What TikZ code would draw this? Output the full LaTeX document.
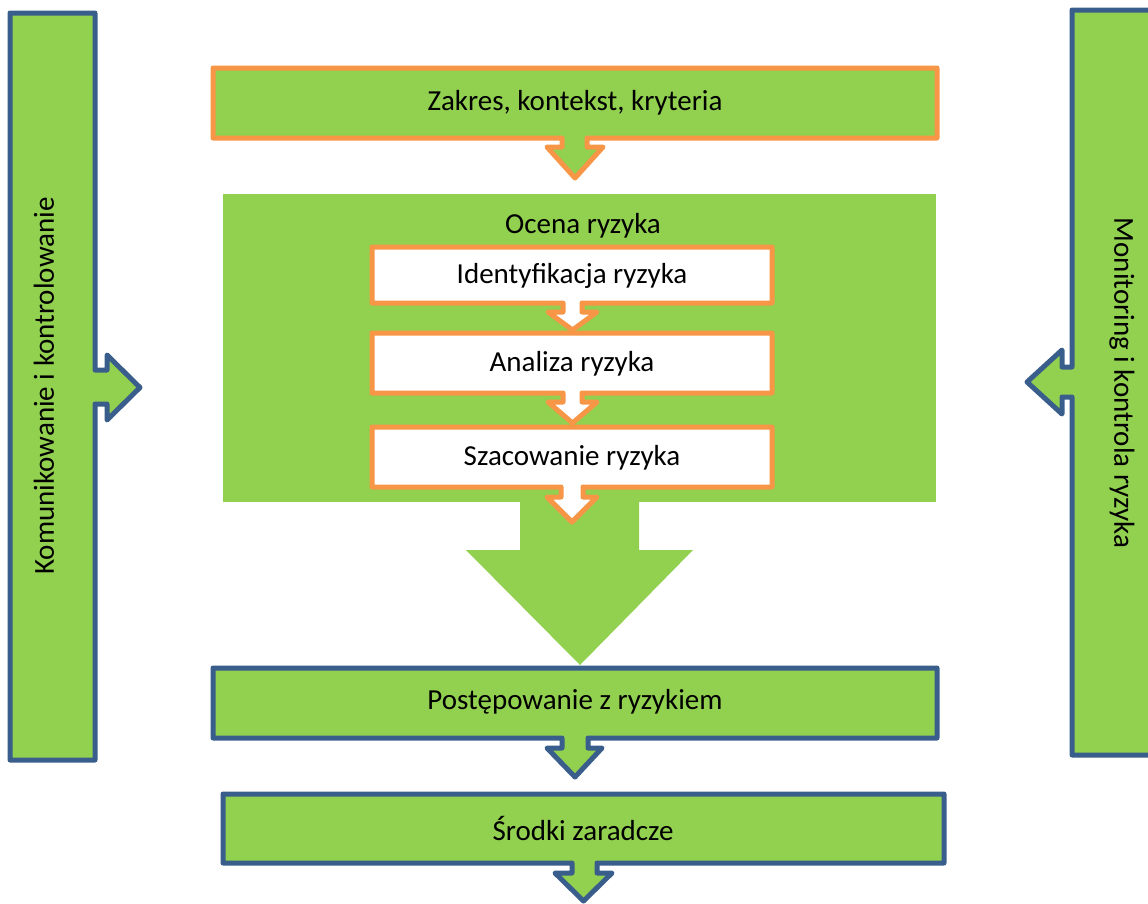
\documentclass[tikz,border=0pt]{standalone}
\usepackage{fontspec}
\setmainfont{Carlito}
\definecolor{grn}{HTML}{92D050}
\definecolor{org}{HTML}{F79646}
\definecolor{blu}{HTML}{3A5E8C}
\begin{document}
\begin{tikzpicture}[x=1pt,y=-1pt,line width=5pt,line join=round,
  obox/.style={draw=org,fill=grn},
  wbox/.style={draw=org,fill=white},
  bbox/.style={draw=blu,fill=grn},
  lbl/.style={font=\fontsize{29}{34}\selectfont,text=black,inner sep=0pt}]
\useasboundingbox (0,0) rectangle (1148,903);
\clip (0,0) rectangle (1148,903);

% side bars
\path[bbox] (10,13) -- (95,13) -- (95,370) -- (107,370) -- (107,355) -- (140,387.5)
  -- (107,420) -- (107,404) -- (95,404) -- (95,760) -- (10,760) -- cycle;
\path[bbox] (1165,10) -- (1072,10) -- (1072,367) -- (1062,367) -- (1062,350) -- (1027,382)
  -- (1062,414) -- (1062,397) -- (1072,397) -- (1072,755) -- (1165,755) -- cycle;
\node[lbl,rotate=90] (kom) at (44,386) {Komunikowanie i kontrolowanie};
\node[lbl,rotate=-90] (mon) at (1122,383) {Monitoring i kontrola ryzyka};

% top box
\path[obox] (213,68) -- (937,68) -- (937,138) -- (587,138) -- (587,147) -- (603,147)
  -- (575,178) -- (547,147) -- (562,147) -- (562,138) -- (213,138) -- cycle;
\node[lbl] (zak) at (575,103) {Zakres, kontekst, kryteria};

% risk assessment area
\fill[grn] (223,194) rectangle (936,502);
\fill[grn] (520,495) -- (639,495) -- (639,550) -- (693,550) -- (580,665) -- (466,550)
  -- (520,550) -- cycle;
\node[lbl] (oce) at (583,226) {Ocena ryzyka};

\path[wbox] (372,247) -- (772,247) -- (772,303) -- (582,303) -- (582,312) -- (597,312)
  -- (572.5,330) -- (548,312) -- (563,312) -- (563,303) -- (372,303) -- cycle;
\node[lbl] (ide) at (572,276) {Identyfikacja ryzyka};

\path[wbox] (372,333) -- (772,333) -- (772,393) -- (582,393) -- (582,402) -- (597,402)
  -- (572.5,423) -- (548,402) -- (563,402) -- (563,393) -- (372,393) -- cycle;
\node[lbl] (ana) at (572,364) {Analiza ryzyka};

\path[wbox] (372,427) -- (772,427) -- (772,487) -- (583,487) -- (583,497) -- (597,497)
  -- (572,522) -- (547,497) -- (561,497) -- (561,487) -- (372,487) -- cycle;
\node[lbl] (sza) at (572,458) {Szacowanie ryzyka};

% bottom boxes
\path[bbox] (213,668) -- (937,668) -- (937,738) -- (588,738) -- (588,748) -- (602,748)
  -- (575,777) -- (547,748) -- (562,748) -- (562,738) -- (213,738) -- cycle;
\node[lbl] (pos) at (575,702) {Postępowanie z ryzykiem};

\path[bbox] (223,794) -- (944,794) -- (944,863) -- (597,863) -- (597,873) -- (612,873)
  -- (583.5,901) -- (555,873) -- (572,873) -- (572,863) -- (223,863) -- cycle;
\node[lbl] (sro) at (583,828) {Środki zaradcze};
\end{tikzpicture}
\end{document}
